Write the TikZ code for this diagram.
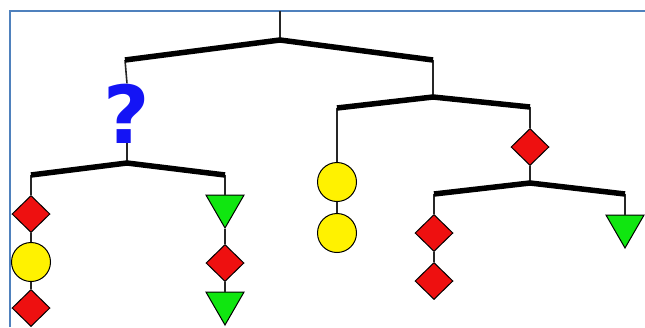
\documentclass[tikz,border=0pt]{standalone}
\usepackage{fontspec}
\newfontfamily\qfont{DejaVu Sans}
\usetikzlibrary{shapes.geometric}
\definecolor{mobred}{RGB}{238,16,16}
\definecolor{mobyellow}{RGB}{255,242,0}
\definecolor{mobgreen}{RGB}{16,230,16}
\definecolor{mobblue}{RGB}{20,20,245}
\definecolor{frameblue}{RGB}{79,129,189}

\begin{document}
\begin{tikzpicture}[x=1pt,y=-1pt,
    bar/.style={line width=5.5pt,line join=round},
    hang/.style={line width=1.6pt,draw=black!85},
    diam/.style={diamond,draw,fill=mobred,minimum width=38pt,minimum height=37pt,inner sep=0pt,line width=1pt},
    ball/.style={circle,draw,fill=mobyellow,minimum size=39pt,inner sep=0pt,line width=1pt},
    tri/.style={regular polygon,regular polygon sides=3,shape border rotate=180,draw,fill=mobgreen,minimum size=44pt,inner sep=0pt,line width=1pt}]
      \useasboundingbox (0,0) rectangle (645,327);
      \clip (0,0) rectangle (645,327);
      \fill[white] (0,0) rectangle (645,327);
      \draw[frameblue,line width=2pt] (10,327) -- (10,11) -- (645,11);
      % bar ends
      \coordinate (top) at (280,11);
      \coordinate (b1) at (280,40);
      \coordinate (b1l) at (125,60);
      \coordinate (b1r) at (433,60);
      \coordinate (b2) at (127,163);
      \coordinate (b2l) at (31,175);
      \coordinate (b2r) at (225,175);
      \coordinate (b3) at (433,97);
      \coordinate (b3l) at (337,108);
      \coordinate (b3r) at (530,107);
      \coordinate (b4) at (530,183);
      \coordinate (b4l) at (434,194);
      \coordinate (b4r) at (625,194);
      % weights
      \node[text=mobblue,inner sep=0pt,anchor=base] (q) at (127,143) {\qfont\bfseries\fontsize{80}{80}\selectfont ?};
      \node[diam] (d1) at (31,214) {};
      \node[ball] (c1) at (31,262) {};
      \node[diam] (d2) at (31,308) {};
      \node[tri] (t1) at (225,206) {};
      \node[diam] (d3) at (225,263) {};
      \node[tri] (t2) at (225,303) {};
      \node[ball] (c2) at (337,182) {};
      \node[ball] (c3) at (337,233) {};
      \node[diam] (d4) at (530,147) {};
      \node[diam] (d5) at (434,233) {};
      \node[diam] (d6) at (434,281) {};
      \node[tri] (t3) at (625,226) {};
      % strings
      \draw[hang] (top) -- (b1);
      \draw[hang] (b1l) -- (q.north);
      \draw[hang] (q.south) -- (b2);
      \draw[hang] (b1r) -- (b3);
      \draw[hang] (b2l) -- (d1);
      \draw[hang] (d1) -- (c1);
      \draw[hang] (c1) -- (d2);
      \draw[hang] (b2r) -- (t1.north);
      \draw[hang] (t1.south) -- (d3);
      \draw[hang] (d3) -- (t2.north);
      \draw[hang] (b3l) -- (c2);
      \draw[hang] (c2) -- (c3);
      \draw[hang] (b3r) -- (d4);
      \draw[hang] (d4) -- (b4);
      \draw[hang] (b4l) -- (d5);
      \draw[hang] (d5) -- (d6);
      \draw[hang] (b4r) -- (t3.north);
      % bars
      \draw[bar] (b1l) -- (b1) -- (b1r);
      \draw[bar] (b2l) -- (b2) -- (b2r);
      \draw[bar] (b3l) -- (b3) -- (b3r);
      \draw[bar] (b4l) -- (b4) -- (b4r);
    \end{tikzpicture}
\end{document}
